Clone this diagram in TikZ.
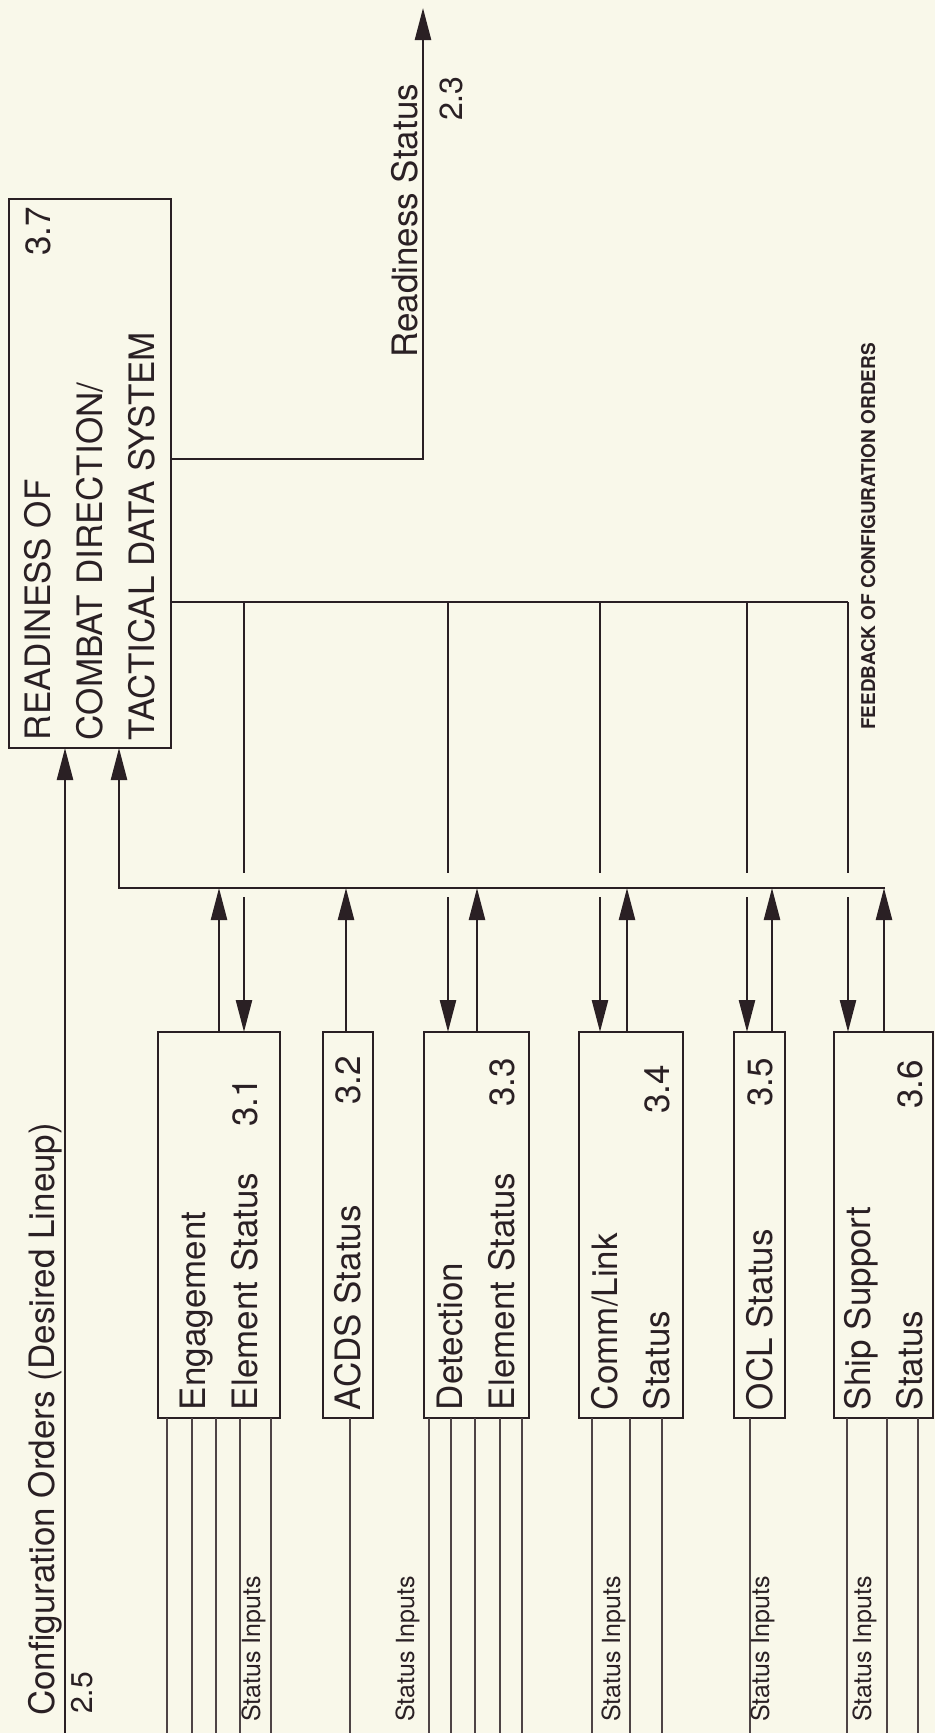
\documentclass[tikz,border=0pt]{standalone}
\usepackage{fontspec}
\setmainfont{TeX Gyre Heros}
\usepackage{graphicx}
\usepackage{xcolor}
\definecolor{cPaper}{HTML}{F9F8EA}
\definecolor{cInk}{HTML}{2A2024}
\definecolor{cFaint}{HTML}{4E4446}
\usetikzlibrary{positioning,arrows.meta,calc}
\newcommand{\boxfont}{\fontsize{35}{52}\selectfont}
\newcommand{\tagfont}{\fontsize{25}{30}\selectfont}
\newcommand{\vlabel}[2]{\rotatebox{90}{\parbox{#1}{\raggedright #2}}}
\newcommand{\procno}[2][20pt]{\hfill #2\hspace*{#1}}
\tikzset{
  proc-box/.style={draw=cInk,line width=2.5pt,inner sep=0pt,outer sep=0pt,
    minimum height=386pt,text=cInk,font=\boxfont},
  flow/.style={draw=cInk,line width=2.5pt},
  flow-arrow/.style={-{Triangle[length=32pt,width=16pt]},line width=2.5pt,draw=cInk},
  input-line/.style={draw=cFaint,line width=1.5pt},
  side-text/.style={rotate=90,anchor=base west,inner sep=0pt,text=cInk,font=\boxfont},
  side-small/.style={side-text,font=\tagfont},
}

\begin{document}
\begin{tikzpicture}[x=1pt,y=-1pt]
  \fill[cPaper] (0,0) rectangle (935,1733);
  \useasboundingbox (0,0) rectangle (935,1733);

  % readiness of the whole system
  \node[proc-box,anchor=north west,minimum width=162pt,minimum height=549pt] (b37) at (9,199)
    {\vlabel{533pt}{READINESS OF\procno[8pt]{3.7}\\COMBAT DIRECTION/\\TACTICAL DATA SYSTEM}};

  % element status processes, left to right
  \node[proc-box,anchor=north west,minimum width=122pt] (b31) at (158,1032)
    {\vlabel{370pt}{Engagement\\Element Status\procno[38pt]{3.1}}};
  \node[proc-box,minimum width=50pt,right=43pt of b31] (b32)
    {\vlabel{370pt}{ACDS Status\procno[16pt]{3.2}}};
  \node[proc-box,minimum width=105pt,right=51pt of b32] (b33)
    {\vlabel{370pt}{Detection\\Element Status\procno[18pt]{3.3}}};
  \node[proc-box,minimum width=104pt,right=50pt of b33] (b34)
    {\vlabel{370pt}{Comm/Link\\Status\procno[25pt]{3.4}}};
  \node[proc-box,minimum width=51pt,right=51pt of b34] (b35)
    {\vlabel{370pt}{OCL Status\procno[18pt]{3.5}}};
  \node[proc-box,minimum width=99pt,right=49pt of b35] (b36)
    {\vlabel{370pt}{Ship Support\\Status\procno{3.6}}};

  \coordinate (bus-w) at (119,888);
  \coordinate (bus-e) at (885,888);
  \coordinate (fb-e) at (848,602);
  \coordinate (rd-turn) at (423,459);
  \coordinate (rd-out) at (423,8);
  \coordinate (cfg-in) at (65,1733);
  \coordinate (u1) at (219,888);
  \coordinate (u2) at (346,888);
  \coordinate (u3) at (477,888);
  \coordinate (u4) at (627,888);
  \coordinate (u5) at (772,888);
  \coordinate (u6) at (884,888);
  \coordinate (d1) at (244,602);
  \coordinate (d3) at (448,602);
  \coordinate (d4) at (600,602);
  \coordinate (d5) at (747,602);

  % configuration orders in, readiness out
  \draw[flow-arrow] (cfg-in) -- (cfg-in |- b37.south);
  \draw[flow-arrow] (b37.east |- rd-turn) -- (rd-turn) -- (rd-out);

  % status bus up into 3.7
  \draw[flow-arrow] (bus-e) -- (bus-w) -- (bus-w |- b37.south);
  \foreach \u/\b in {u1/b31,u2/b32,u3/b33,u4/b34,u5/b35,u6/b36}
    \draw[flow-arrow] (\b.north -| \u) -- (\u);

  % feedback down, bridging the bus
  \draw[flow] (b37.east |- fb-e) -- (fb-e);
  \foreach \d/\b in {d1/b31,d3/b33,d4/b34,d5/b35,fb-e/b36} {
    \draw[flow] (\d) -- ($(\d |- bus-w)+(0,-15)$);
    \draw[flow-arrow] ($(\d |- bus-w)+(0,9)$) -- (\d |- \b.north);
  }

  % status inputs
  \foreach \dx in {9,34,58,82,113}
    \draw[input-line] ([xshift=\dx pt]b31.south west) -- ++(0,315);
  \draw[input-line] ([xshift=27pt]b32.south west) -- ++(0,315);
  \foreach \dx in {5,27,51,76,98}
    \draw[input-line] ([xshift=\dx pt]b33.south west) -- ++(0,315);
  \foreach \dx in {13,51,83}
    \draw[input-line] ([xshift=\dx pt]b34.south west) -- ++(0,315);
  \draw[input-line] ([xshift=16pt]b35.south west) -- ++(0,315);
  \foreach \dx in {13,53,84}
    \draw[input-line] ([xshift=\dx pt]b36.south west) -- ++(0,315);

  % labels
  \node[side-text] (cfg-lbl) at (54,1716) {Configuration Orders (Desired Lineup)};
  \node[side-text,font=\fontsize{30}{36}\selectfont] (cfg-no) at (92,1714) {2.5};
  \node[side-text] (rd-lbl) at (417,358) {Readiness Status};
  \node[side-text,font=\fontsize{32}{38}\selectfont] (rd-no) at (462,121) {2.3};
  \node[side-text,font=\fontsize{19}{23}\selectfont\bfseries] (fb-lbl) at (875,730)
    {FEEDBACK OF CONFIGURATION ORDERS};
  \node[side-small] (in1) at (260,1722) {Status Inputs};
  \node[side-small] (in2) at (414,1722) {Status Inputs};
  \node[side-small] (in3) at (620,1722) {Status Inputs};
  \node[side-small] (in4) at (769,1722) {Status Inputs};
  \node[side-small] (in5) at (871,1722) {Status Inputs};
\end{tikzpicture}
\end{document}
